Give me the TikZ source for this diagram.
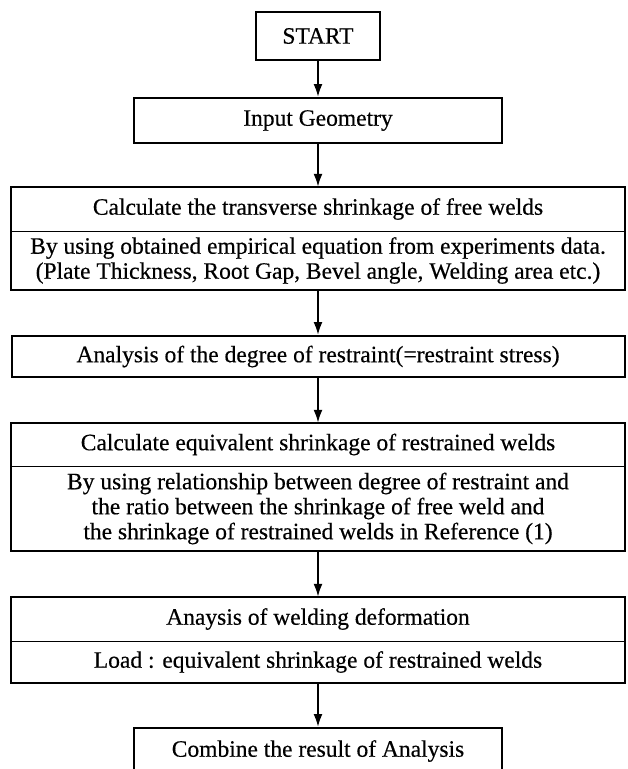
\documentclass[tikz,border=0pt]{standalone}
\usepackage{fontspec}
\setmainfont{Liberation Serif}
\newfontfamily\flowfont[FakeBold=0.4]{Liberation Serif}
\usetikzlibrary{arrows.meta}

\begin{document}
\begin{tikzpicture}
[x=1pt,y=-1pt,%
  boxDecorate/.style={shape=rectangle,draw,line width=2pt,inner sep=0pt,align=center,%
    font=\flowfont\fontsize{23.5}{25}\selectfont},%
  partDecorate/.style={shape=rectangle,inner sep=0pt,align=center,minimum width=613pt,%
    font=\flowfont\fontsize{23.5}{25}\selectfont},%
  lineDecorate/.style={-{Latex[length=13pt,width=9pt]},line width=2pt}]
\useasboundingbox (0,0) rectangle (628,769);
%% single boxes
\foreach \nodename/\y/\w/\h/\txt in {
  start/36/124/48/START,
  input/120.5/368/45/Input Geometry,
  restraint/356.5/613/41/Analysis of the degree of restraint(=restraint stress),
  combine/751/368/46/Combine the result of Analysis}
{
  \node (\nodename) at (318,\y) [boxDecorate,minimum width=\w pt,minimum height=\h pt] {\txt};
}
%% boxes with a heading and a body
\foreach \nodename/\y/\h/\txt in {
  shrinkTitle/209/44/Calculate the transverse shrinkage of free welds,
  shrinkBody/260.5/59/{By using obtained empirical equation from experiments data.\\(Plate Thickness, Root Gap, Bevel angle, Welding area etc.)},
  equivTitle/444.5/43/Calculate equivalent shrinkage of restrained welds,
  equivBody/508.5/85/{By using relationship between degree of restraint and\\the ratio between the shrinkage of free weld and\\the shrinkage of restrained welds in Reference (1)},
  deformTitle/619/44/Anaysis of welding deformation,
  deformBody/662/42/Load : equivalent shrinkage of restrained welds}
{
  \node (\nodename) at (318,\y) [partDecorate,minimum height=\h pt] {\txt};
}
\foreach \headname/\bodyname in {shrinkTitle/shrinkBody, equivTitle/equivBody, deformTitle/deformBody}
{
  \draw[line width=2pt] (\headname.north west) rectangle (\bodyname.south east);
  \draw[line width=0.8pt] (\headname.south west) -- (\headname.south east);
}
%% arrows
\path
\foreach \startnode/\endnode in {start/input, input/shrinkTitle, shrinkBody/restraint,
  restraint/equivTitle, equivBody/deformTitle, deformBody/combine}
{
  (\startnode) edge[lineDecorate] (\endnode)
};
\end{tikzpicture}
\end{document}
